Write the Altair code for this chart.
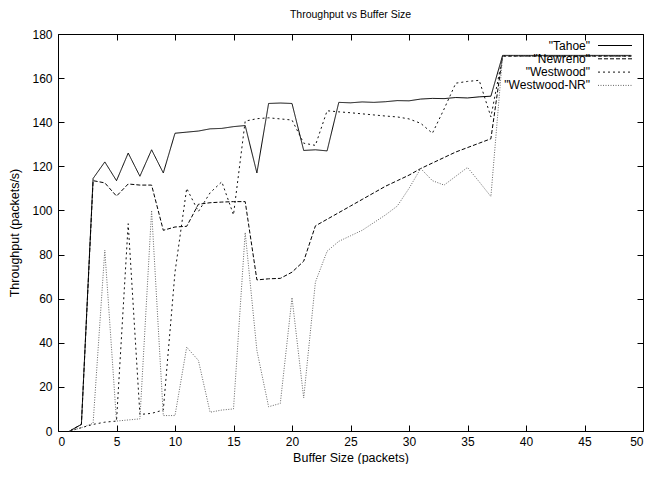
import altair as alt
import pandas as pd

buffer_sizes = list(range(1, 50))
tahoe = [0, 3, 114.5, 122, 113.5, 126, 115.5, 127.5, 117, 135,
         135.5, 136, 137, 137.2, 138, 138.5, 117, 148.5, 148.7, 148.5,
         127.2, 127.5, 127, 149, 148.8, 149.2, 149, 149.3, 149.8, 149.7,
         150.5, 150.8, 150.7, 151.2, 151, 151.5, 151.8,
         170.3, 170.3, 170.3, 170.3, 170.3, 170.3, 170.3, 170.3, 170.3, 170.3, 170.3, 170.3]
newreno = [0, 3, 113.5, 112.5, 106.5, 112, 111.5, 111.5, 91, 92.5,
           92.8, 102.8, 103.5, 103.8, 104, 104, 68.5, 69, 69.2, 72,
           77, 93, 96, 99, 102, 105, 108, 111, 113.5, 116,
           119, 121.5, 124, 126.5, 128.5, 130.5, 132.5,
           170, 170, 170, 170, 170, 170, 170, 170, 170, 170, 170, 170]
westwood = [0, 1.5, 3, 4, 4.5, 94, 7.5, 8, 9.5, 72,
            110, 99.5, 108, 113, 98, 140.5, 141.6, 142, 141.5, 141,
            130.5, 129.5, 145.2, 144.7, 144.3, 143.8, 143.3, 142.8, 142.4, 141.5,
            139.5, 135, 146, 157.7, 158.5, 159, 142.4,
            170, 170, 170, 170, 170, 170, 170, 170, 170, 170, 170, 170]
westwood_nr = [0, 1.5, 3.5, 82, 4.5, 5, 5.5, 100, 7, 7,
               38, 32, 8.5, 9.5, 10, 90, 36.5, 11, 12.5, 60.5,
               15, 67.5, 81.5, 86, 88.5, 91, 94.5, 98, 102, 110,
               119, 113.5, 111.5, 115.5, 119.5, 113, 106.3,
               170, 170, 170, 170, 170, 170, 170, 170, 170, 170, 170, 170]

series_names = ["Tahoe", "Newreno", "Westwood", "Westwood-NR"]
x_ticks = list(range(0, 51, 5))
y_ticks = list(range(0, 181, 20))
chart_title = "Throughput vs Buffer Size"

dash_styles = [[1, 0], [4, 2], [2, 3], [1, 1.5]]
line_colors = ["#000000", "#000000", "#111111", "#666666"]

rows = []
for name, vals in zip(series_names, [tahoe, newreno, westwood, westwood_nr]):
    for b, v in zip(buffer_sizes, vals):
        rows.append({"buffer": b, "throughput": v, "series": name})
df = pd.DataFrame(rows)

FONT = "Liberation Sans"
W, H = 585, 397
xscale = alt.Scale(domain=[0, 50], nice=False, zero=False)
yscale = alt.Scale(domain=[0, 180], nice=False)

main = alt.Chart(df).mark_line(strokeWidth=1).encode(
    x=alt.X("buffer:Q", scale=xscale,
            axis=alt.Axis(orient="bottom", values=x_ticks, ticks=False, domain=False, grid=False,
                          labelPadding=5, title="Buffer Size (packets)",
                          titleY=30, titleBaseline="alphabetic")),
    y=alt.Y("throughput:Q", scale=yscale,
            axis=alt.Axis(orient="left", values=y_ticks, ticks=False, domain=False, grid=False,
                          labelPadding=6, title="Throughput (packets/s)", titlePadding=10)),
    color=alt.Color("series:N", scale=alt.Scale(domain=series_names, range=line_colors), legend=None),
    strokeDash=alt.StrokeDash("series:N", scale=alt.Scale(domain=series_names, range=dash_styles), legend=None),
    order=alt.Order("buffer:Q"),
)

ticks_a = alt.Chart(df).mark_point(opacity=0).encode(
    x=alt.X("buffer:Q", scale=xscale,
            axis=alt.Axis(orient="bottom", values=x_ticks, offset=-6, tickSize=6, labels=False,
                          domain=False, grid=False, title=None)),
    y=alt.Y("throughput:Q", scale=yscale,
            axis=alt.Axis(orient="left", values=y_ticks, offset=-6, tickSize=6, labels=False,
                          domain=False, grid=False, title=None)),
)
ticks_b = alt.Chart(df).mark_point(opacity=0).encode(
    x=alt.X("buffer:Q", scale=xscale,
            axis=alt.Axis(orient="top", values=x_ticks, offset=-6, tickSize=6, labels=False,
                          domain=False, grid=False, title=None)),
    y=alt.Y("throughput:Q", scale=yscale,
            axis=alt.Axis(orient="right", values=y_ticks, offset=-6, tickSize=6, labels=False,
                          domain=False, grid=False, title=None)),
)

title_layer = alt.Chart(pd.DataFrame({"t": [chart_title]})).mark_text(
    align="center", baseline="middle", font=FONT, fontSize=10.5, color="black"
).encode(x=alt.value(W / 2), y=alt.value(-19), text="t:N")

legend_layers = []
for i, name in enumerate(series_names):
    ypos = 11.5 + 13.3 * i
    ldf = pd.DataFrame({"series": [name]})
    legend_layers.append(
        alt.Chart(ldf).mark_text(align="right", baseline="middle", font=FONT, fontSize=12, color="black").encode(
            x=alt.value(532), y=alt.value(ypos), text=alt.value('"' + name + '"'))
    )
    legend_layers.append(
        alt.Chart(ldf).mark_rule(strokeWidth=1, color=line_colors[i], strokeDash=dash_styles[i]).encode(
            x=alt.value(540), x2=alt.value(574), y=alt.value(ypos))
    )

chart = alt.layer(main, ticks_a, ticks_b, title_layer, *legend_layers).resolve_axis(
    x="independent", y="independent"
).properties(
    width=W, height=H,
    autosize=alt.AutoSizeParams(type="none"),
    padding={"left": 50, "top": 26, "right": 6, "bottom": 33},
).configure_view(
    stroke="black", strokeWidth=1
).configure_axis(
    labelFont=FONT, titleFont=FONT, labelFontSize=12, titleFontSize=12.5,
    labelColor="black", titleColor="black", titleFontWeight="normal",
    tickColor="black", tickWidth=1
)

chart.save("out.html", embed_options={"renderer": "svg", "actions": False})
